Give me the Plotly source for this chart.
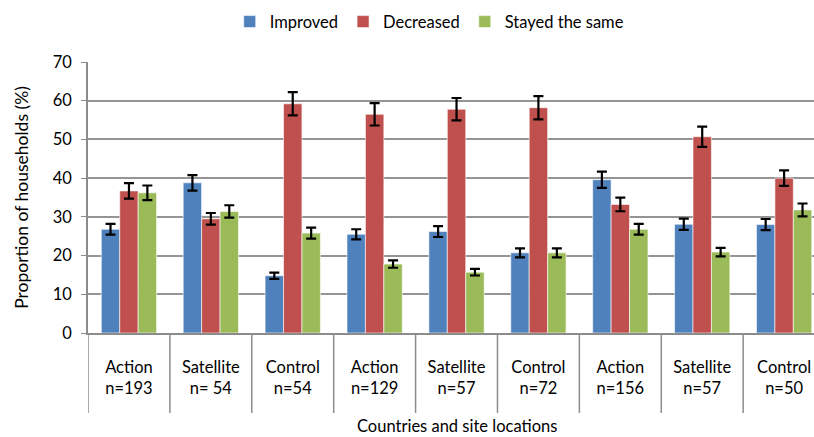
import plotly.graph_objects as go

sites = ["Action", "Satellite", "Control", "Action", "Satellite", "Control", "Action", "Satellite", "Control"]
sizes = ["n=193", "n= 54", "n=54", "n=129", "n=57", "n=72", "n=156", "n=57", "n=50"]

improved = [26.8, 38.8, 14.8, 25.5, 26.2, 20.7, 39.6, 28.1, 28.0]
improved_err = [1.4, 2.0, 0.8, 1.3, 1.4, 1.15, 2.1, 1.45, 1.45]
decreased = [36.7, 29.5, 59.2, 56.5, 57.8, 58.2, 33.2, 50.7, 40.0]
decreased_err = [2.0, 1.5, 3.0, 2.9, 2.9, 3.0, 1.75, 2.6, 2.0]
same = [36.2, 31.4, 25.8, 17.8, 15.7, 20.7, 26.8, 20.9, 31.8]
same_err = [1.9, 1.6, 1.4, 0.95, 0.85, 1.15, 1.4, 1.1, 1.65]

series = [
    ("Improved", improved, improved_err, "#4F81BD"),
    ("Decreased", decreased, decreased_err, "#C0504D"),
    ("Stayed the same", same, same_err, "#9BBB59"),
]

FONT = "Lato"
x = list(range(len(sites)))

fig = go.Figure()
for name, vals, errs, col in series:
    fig.add_trace(go.Bar(
        x=x, y=vals, name=name,
        marker=dict(color=col, line=dict(color="rgba(255,255,255,0.6)", width=1)),
        error_y=dict(type="data", array=errs, visible=True, color="black", thickness=2.2, width=5),
    ))

n = len(sites)
shapes = []
for i in range(n + 1):
    shapes.append(dict(type="line", xref="x", yref="paper", x0=i - 0.5, x1=i - 0.5,
                       y0=0, y1=-0.295, line=dict(color="#8c8c8c", width=1.5)))

fig.update_layout(
    width=814, height=437,
    margin=dict(l=88, r=0, t=62, b=104, autoexpand=False),
    paper_bgcolor="white", plot_bgcolor="white",
    barmode="group", bargap=0.325, bargroupgap=0,
    font=dict(family=FONT, size=16, color="black"),
    legend=dict(orientation="h", x=0.47, xanchor="center", y=0.99, yref="container",
                yanchor="top", font=dict(family=FONT, size=16.5), traceorder="normal",
                itemwidth=30, tracegroupgap=0),
    shapes=shapes,
    annotations=[dict(text="Countries and site locations", xref="x", yref="paper",
                      x=(n - 1) / 2, y=-0.345, yanchor="middle", showarrow=False,
                      font=dict(family=FONT, size=16.5))],
    xaxis=dict(range=[-0.5, 8.365], tickmode="array", tickvals=x,
               ticktext=[f"{s}<br>{z}" for s, z in zip(sites, sizes)],
               ticks="outside", ticklen=18, tickcolor="rgba(0,0,0,0)",
               showline=True, linecolor="#8c8c8c", linewidth=2, showgrid=False,
               zeroline=False, automargin=False, tickfont=dict(family=FONT, size=16.5)),
    yaxis=dict(range=[0, 70], dtick=10, showgrid=True, gridcolor="#949494", gridwidth=1.6,
               showline=True, linecolor="#8c8c8c", linewidth=1.5, ticks="outside",
               ticklen=5, tickcolor="#8c8c8c", zeroline=False, automargin=False,
               ticklabelstandoff=6,
               title=dict(text="Proportion of households (%)", font=dict(family=FONT, size=17.5), standoff=20),
               tickfont=dict(family=FONT, size=16.5)),
)

fig.write_html("out.html", config={"displayModeBar": False},
               post_script="document.body.style.margin='0';document.body.style.overflow='hidden';")
